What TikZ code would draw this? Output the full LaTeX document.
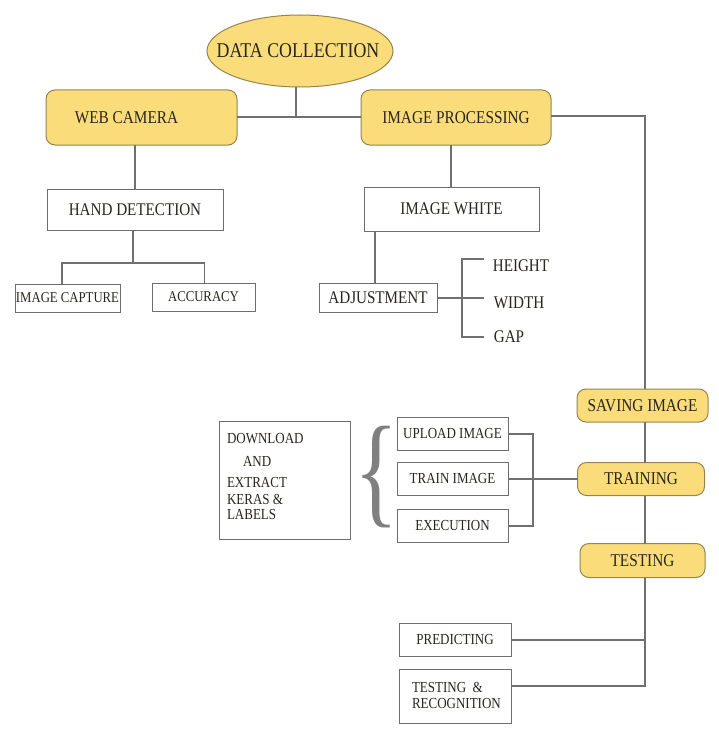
\documentclass[tikz,border=0pt]{standalone}
\usepackage{fontspec}
\setmainfont{Liberation Serif}[FakeStretch=0.85]
\usetikzlibrary{shapes.geometric}
\definecolor{yel}{RGB}{250,221,122}
\definecolor{yelline}{RGB}{150,132,80}
\definecolor{conn}{RGB}{112,112,112}
\definecolor{boxline}{RGB}{110,110,110}
\definecolor{txt}{RGB}{40,38,30}
\newcommand{\fs}[1]{\fontsize{#1}{#1}\selectfont}
\tikzset{
  ybox/.style={draw=yelline, fill=yel, line width=1pt, rounded corners=9pt,
    inner sep=0pt, outer sep=0pt, text=txt, font=\fs{18}},
  pbox/.style={draw=boxline, fill=white, line width=1pt, inner sep=0pt, outer sep=0pt,
    text=txt},
  lbl/.style={inner sep=0pt, outer sep=0pt, text=txt},
  conline/.style={draw=conn, line width=1.3pt},
}
\begin{document}
\begin{tikzpicture}[x=1pt,y=-1pt]
\useasboundingbox[fill=white] (0,0) rectangle (718,749);

% top
\node[ellipse, draw=yelline, fill=yel, line width=1pt, minimum width=186pt, minimum height=72pt,
  inner sep=0pt, outer sep=0pt] (dc) at (300,51) {};
\node[lbl, font=\fs{21}] (dct) at (298,51) {DATA COLLECTION};
\node[ybox, minimum width=191pt, minimum height=55pt] (web) at (141.5,117.5) {\hspace*{-30pt}WEB CAMERA};
\node[ybox, minimum width=190pt, minimum height=55pt] (ip) at (456,117.5) {IMAGE PROCESSING};

% left branch
\node[pbox, minimum width=176pt, minimum height=41pt, font=\fs{17.8}] (hd) at (135,209.5) {HAND DETECTION};
\node[pbox, minimum width=105pt, minimum height=28pt, font=\fs{15}] (imcap) at (67.5,298) {IMAGE CAPTURE};
\node[pbox, minimum width=103pt, minimum height=28pt, font=\fs{15}] (acc) at (203.5,297) {ACCURACY};

% middle branch
\node[pbox, minimum width=175pt, minimum height=44pt, font=\fs{17.8}] (iw) at (451.5,209) {IMAGE WHITE};
\node[pbox, minimum width=118pt, minimum height=29pt, font=\fs{17.8}] (adj) at (378,297.5) {ADJUSTMENT};
\node[lbl, font=\fs{17.8}] (hgt) at (521,266) {HEIGHT};
\node[lbl, font=\fs{17.8}] (wid) at (519,303) {WIDTH};
\node[lbl, font=\fs{17.8}] (gap) at (509,337) {GAP};
\coordinate (bt) at (484,259);
\coordinate (bm) at (484,298);
\coordinate (bb) at (484,337);

% right column
\node[ybox, minimum width=131pt, minimum height=33pt] (save) at (642.5,405.5) {SAVING IMAGE};
\node[ybox, minimum width=127pt, minimum height=33pt] (train) at (641,479) {TRAINING};
\node[ybox, minimum width=125pt, minimum height=34pt] (test) at (642.5,560.5) {TESTING};

% training sub boxes
\node[pbox, minimum width=111pt, minimum height=33pt, font=\fs{15.3}] (up) at (452.5,434) {UPLOAD IMAGE};
\node[pbox, minimum width=111pt, minimum height=33pt, font=\fs{15.3}] (ti) at (452.5,479) {TRAIN IMAGE};
\node[pbox, minimum width=111pt, minimum height=33pt, font=\fs{15.3}] (ex) at (452.5,526) {EXECUTION};

% brace
\node[lbl, text={rgb,255:red,128;green,128;blue,128}, font=\fs{60}, xscale=1.8, yscale=2.05] (brace) at (377,477) {\{};

% download box
\node[pbox, minimum width=131pt, minimum height=118pt] (dl) at (284.5,480) {};
\node[lbl, anchor=west, font=\fs{15.3}] (dl1) at (227,439) {DOWNLOAD};
\node[lbl, anchor=west, font=\fs{15.3}] (dl2) at (243,461) {AND};
\node[lbl, anchor=west, font=\fs{15.3}] (dl3) at (227,483) {EXTRACT};
\node[lbl, anchor=west, font=\fs{15.3}] (dl4) at (227,499) {KERAS \&};
\node[lbl, anchor=west, font=\fs{15.3}] (dl5) at (227,515) {LABELS};

% testing sub boxes
\node[pbox, minimum width=112pt, minimum height=33pt, font=\fs{15.3}] (pred) at (455,640) {PREDICTING};
\node[pbox, minimum width=112pt, minimum height=54pt] (tr) at (455,696) {};
\node[lbl, anchor=west, font=\fs{15.3}] (tr1) at (412,687) {TESTING \ \&};
\node[lbl, anchor=west, font=\fs{15.3}] (tr2) at (412,704) {RECOGNITION};

% connectors
\draw[conline] (dc.south -| 296,0) -- (296,117);
\draw[conline] (web.east |- 0,117) -- (ip.west |- 0,117);
\draw[conline] (ip.east |- 0,116) -- (645,116) -- (save.north -| 645,0);
\draw[conline] (web.south -| 135,0) -- (hd.north -| 135,0);
\draw[conline] (hd.south -| 133,0) -- (133,263);
\draw[conline] (imcap.north -| 62,0) -- (62,263) -- (204.5,263) -- (acc.north -| 204.5,0);
\draw[conline] (ip.south -| 451,0) -- (iw.north -| 451,0);
\draw[conline] (iw.south -| 375,0) -- (adj.north -| 375,0);
\draw[conline] (adj.east |- bm) -- (bm);
\draw[conline] (bt) -- (462,259) -- (462,337) -- (bb);
\draw[conline] (save.south -| 645,0) -- (train.north -| 645,0);
\draw[conline] (train.south -| 645,0) -- (test.north -| 645,0);
\draw[conline] (up.east) -- (533,434) -- (533,526) -- (ex.east);
\draw[conline] (ti.east) -- (train.west);
\draw[conline] (test.south -| 645,0) -- (645,686) -- (tr.east |- 0,686);
\draw[conline] (pred.east) -- (pred.east -| 645,0);
\end{tikzpicture}
\end{document}
